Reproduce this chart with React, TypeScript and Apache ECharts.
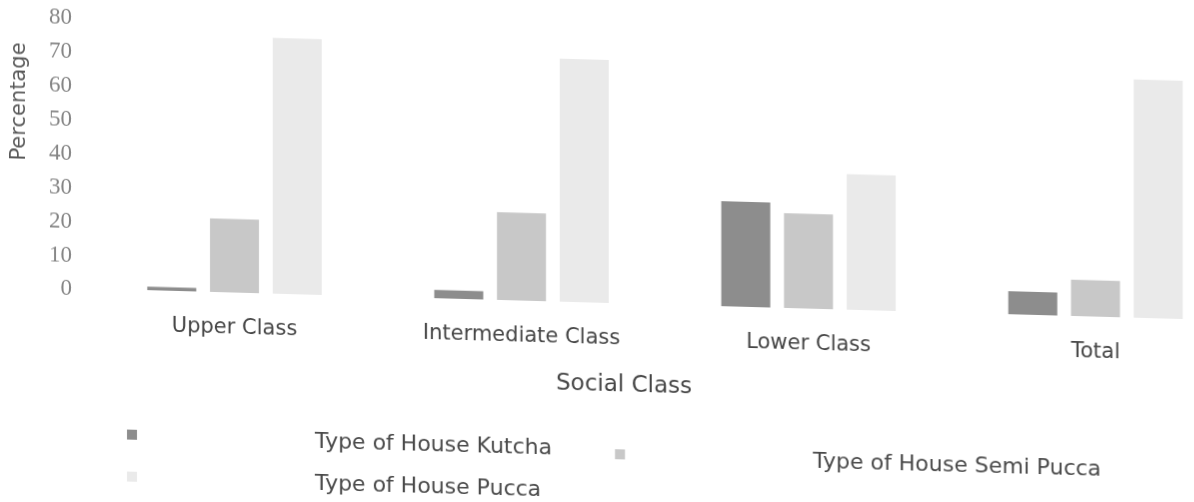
import React, { useEffect, useRef } from "react";
import * as echarts from "echarts";

const categories = ["Upper Class", "Intermediate Class", "Lower Class", "Total"];
const kutcha = [1, 2.4, 31, 6.8];
const semiPucca = [21.7, 25.9, 28, 10.7];
const pucca = [75.5, 71.7, 40, 70.3];
const seriesNames = ["Type of House Kutcha", "Type of House Semi Pucca", "Type of House Pucca"];
const yMin = 0;
const yMax = 80;
const yInterval = 10;

const SANS = "DejaVu Sans";

export default function App() {
  const ref = useRef<HTMLDivElement>(null);
  useEffect(() => {
    if (!ref.current) return;
    const chart = echarts.init(ref.current, undefined, { renderer: "svg" });
    const legendText = { fontFamily: SANS, fontSize: 22, color: "#4a4a4a" };
    chart.setOption({
      animation: false,
      backgroundColor: "#ffffff",
      grid: { left: 91, width: 1148, top: 15, bottom: 216, containLabel: false, outerBoundsMode: "none" },
      xAxis: {
        type: "category",
        data: categories,
        axisLine: { show: false },
        axisTick: { show: false },
        axisLabel: { fontFamily: SANS, fontSize: 21, color: "#454545", margin: 23 },
      },
      yAxis: {
        type: "value",
        min: yMin,
        max: yMax,
        interval: yInterval,
        axisLine: { show: false },
        axisTick: { show: false },
        splitLine: { show: false },
        axisLabel: { fontFamily: "Liberation Serif", fontSize: 23, color: "#858585", margin: 19 },
      },
      legend: [
        {
          data: [seriesNames[0]],
          left: 122,
          top: 415,
          itemWidth: 10,
          itemHeight: 10,
          icon: "rect",
          textStyle: { ...legendText, padding: [0, 0, 0, 173] },
        },
        {
          data: [seriesNames[1]],
          left: 610,
          top: 421,
          itemWidth: 10,
          itemHeight: 10,
          icon: "rect",
          textStyle: { ...legendText, padding: [0, 0, 0, 183] },
        },
        {
          data: [seriesNames[2]],
          left: 122,
          top: 457,
          itemWidth: 10,
          itemHeight: 10,
          icon: "rect",
          textStyle: { ...legendText, padding: [0, 0, 0, 173] },
        },
      ],
      graphic: [
        {
          type: "text",
          x: 18,
          y: 101,
          rotation: Math.PI / 2,
          style: {
            text: "Percentage",
            fontFamily: SANS,
            fontSize: 21,
            fill: "#5a5a5a",
            align: "center",
            verticalAlign: "middle",
          },
        },
        {
          type: "text",
          x: 624,
          y: 366,
          style: {
            text: "Social Class",
            fontFamily: SANS,
            fontSize: 23,
            fill: "#454545",
            align: "center",
            verticalAlign: "middle",
          },
        },
      ],
      series: [
        { name: seriesNames[0], type: "bar", data: kutcha, barWidth: 49, barGap: "28%", itemStyle: { color: "#8d8d8d" } },
        { name: seriesNames[1], type: "bar", data: semiPucca, barWidth: 49, barGap: "28%", itemStyle: { color: "#c8c8c8" } },
        { name: seriesNames[2], type: "bar", data: pucca, barWidth: 49, barGap: "28%", itemStyle: { color: "#eaeaea" } },
      ],
    });
    return () => chart.dispose();
  }, []);
  return (
    <div
      ref={ref}
      style={{
        position: "fixed",
        left: 0,
        top: 0,
        width: 1194,
        height: 502,
        transform: "skewY(1.6deg)",
        transformOrigin: "0 0",
      }}
    />
  );
}
